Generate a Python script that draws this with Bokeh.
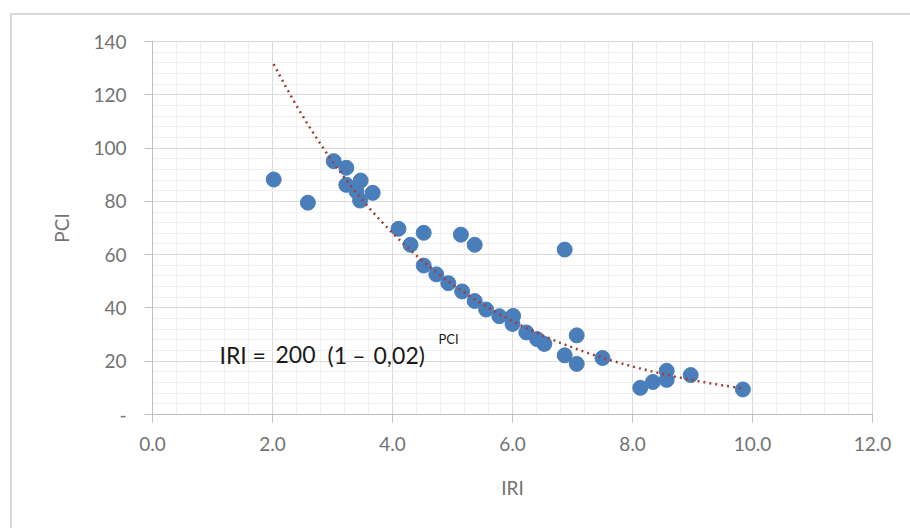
import numpy as np
from bokeh.plotting import figure
from bokeh.models import (ColumnDataSource, Range1d, SingleIntervalTicker, Label)
from bokeh.embed import file_html
from bokeh.resources import INLINE

# ---- data ----
iri = [2.02, 2.59, 3.02, 3.23, 3.23, 3.47, 3.40, 3.46, 3.67, 4.10, 4.52, 4.30,
       4.52, 4.73, 5.14, 5.37, 6.87, 4.93, 5.16, 5.37, 5.56, 5.78, 6.01, 6.00,
       6.23, 6.41, 6.53, 7.07, 6.87, 7.07, 7.50, 8.13, 8.34, 8.57, 8.57, 8.97, 9.84]
pci = [88.2, 79.5, 95.1, 92.6, 86.2, 87.8, 83.7, 80.3, 83.2, 69.7, 68.2, 63.7,
       55.9, 52.6, 67.5, 63.7, 61.9, 49.3, 46.2, 42.6, 39.4, 36.9, 37.0, 34.0,
       30.8, 28.3, 26.5, 29.7, 22.2, 19.0, 21.2, 10.0, 12.2, 16.4, 13.0, 14.8, 9.4]

x_ticks = [0, 2, 4, 6, 8, 10, 12]
x_tick_labels = ["0.0", "2.0", "4.0", "6.0", "8.0", "10.0", "12.0"]
y_ticks = [0, 20, 40, 60, 80, 100, 120, 140]
y_tick_labels = ["-", "20", "40", "60", "80", "100", "120", "140"]

x_title = "IRI"
y_title = "PCI"

# exponential trendline fitted to the data (as a spreadsheet trendline does)
b, ln_a = np.polyfit(np.array(iri), np.log(np.array(pci)), 1)
tx = np.linspace(min(iri), max(iri), 200)
ty = np.exp(ln_a) * np.exp(b * tx)

FONT = "Lato"
TICK_COLOR = "#737373"
GRID_MAJOR = "#d9d9d9"
GRID_MINOR = "#efefef"
BORDER = "#d9d9d9"

p = figure(width=910, height=528, output_backend="svg", toolbar_location=None,
           x_range=Range1d(0, 12), y_range=Range1d(0, 140),
           min_border_left=152, min_border_right=38,
           min_border_top=41, min_border_bottom=114)
p.background_fill_color = "white"
p.border_fill_color = None
p.outline_line_color = GRID_MAJOR
# outer chart box: only its top and left edges fall inside the window
p.styles = {
    "background": (f"linear-gradient({BORDER}, {BORDER}) 10px 13px / 2px 100% no-repeat, "
                   f"linear-gradient({BORDER}, {BORDER}) 10px 13px / 100% 2px no-repeat, "
                   "white"),
}

# axes
p.xaxis.ticker = SingleIntervalTicker(interval=2, num_minor_ticks=5)
p.yaxis.ticker = SingleIntervalTicker(interval=20, num_minor_ticks=5)
p.xaxis.major_label_overrides = {t: l for t, l in zip(x_ticks, x_tick_labels)}
p.yaxis.major_label_overrides = {t: l for t, l in zip(y_ticks, y_tick_labels)}
for ax in (p.xaxis, p.yaxis):
    ax.axis_line_color = "#bfbfbf"
    ax.axis_line_width = 1
    ax.major_tick_line_color = "#bfbfbf"
    ax.major_tick_out = 8
    ax.major_tick_in = 0
    ax.minor_tick_line_color = None
    ax.major_label_text_font = FONT
    ax.major_label_text_font_size = "19px"
    ax.major_label_text_color = TICK_COLOR
    ax.axis_label_text_font = FONT
    ax.axis_label_text_font_size = "19px"
    ax.axis_label_text_font_style = "normal"
    ax.axis_label_text_color = TICK_COLOR
p.xaxis.axis_label = x_title
p.yaxis.axis_label = y_title
p.xaxis.major_label_standoff = 14
p.yaxis.major_label_standoff = 18
p.xaxis.axis_label_standoff = 22
p.yaxis.axis_label_standoff = 17

# grids
for g in (p.xgrid, p.ygrid):
    g.grid_line_color = GRID_MAJOR
    g.grid_line_width = 1
    g.minor_grid_line_color = GRID_MINOR
    g.minor_grid_line_width = 1

src = ColumnDataSource(dict(x=iri, y=pci))
p.scatter("x", "y", source=src, size=15, fill_color="#4A7EBB", line_color="#4A7EBB")
p.line(tx, ty, line_color="#A33B36", line_width=2.5, line_dash="2 4")

# equation
EQ_COLOR = "#1a1a1a"
eq_parts = [("IRI", 1.117), ("=", 1.667), ("200", 2.05), ("(1", 2.917),
            ("\u2013", 3.33), ("0,02)", 3.683)]
for txt, xx in eq_parts:
    p.add_layout(Label(x=xx, y=22.5, text=txt, text_font=FONT, text_font_size="23px",
                       text_color=EQ_COLOR, text_baseline="alphabetic"))
p.add_layout(Label(x=4.767, y=28.5, text="PCI", text_font=FONT, text_font_size="13px",
                   text_color=EQ_COLOR, text_baseline="alphabetic"))

open("out.html", "w").write(file_html(p, INLINE))
